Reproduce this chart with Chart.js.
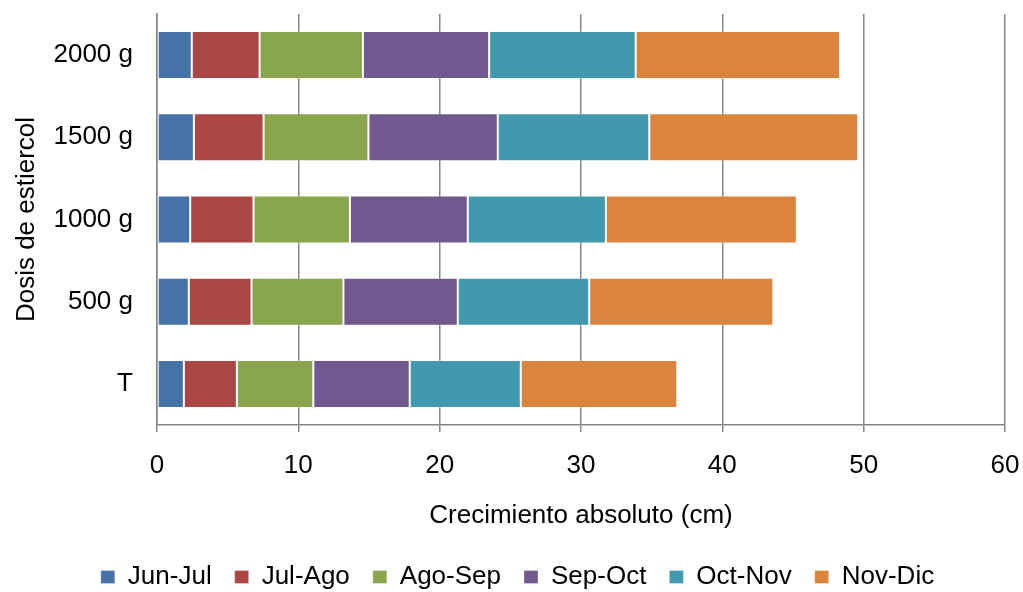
<!DOCTYPE html>
<html>
<head>
<meta charset="utf-8">
<script src="https://cdn.jsdelivr.net/npm/chart.js@4.4.1/dist/chart.umd.min.js"></script>
<style>
  html, body { margin: 0; padding: 0; background: #ffffff; }
  #wrap { width: 1023px; height: 592px; }
</style>
</head>
<body>
<div id="wrap"><canvas id="chart" width="1023" height="592"></canvas></div>
<script>
// Manure dose categories (bottom to top)
const categories = ['T', '500 g', '1000 g', '1500 g', '2000 g'];

// Absolute growth (cm) per period, one value per dose
const junJul = [1.90, 2.25, 2.35, 2.61, 2.46];
const julAgo = [3.75, 4.44, 4.48, 4.93, 4.80];
const agoSep = [5.41, 6.50, 6.82, 7.42, 7.31];
const sepOct = [6.82, 8.09, 8.34, 9.15, 8.93];
const octNov = [7.86, 9.30, 9.77, 10.72, 10.37];
const novDic = [11.07, 13.03, 13.51, 14.78, 14.46];

const periodNames = ['Jun-Jul', 'Jul-Ago', 'Ago-Sep', 'Sep-Oct', 'Oct-Nov', 'Nov-Dic'];
const periodValues = [junJul, julAgo, agoSep, sepOct, octNov, novDic];
const periodColors = ['#4572A7', '#AA4643', '#89A54E', '#71588F', '#4198AF', '#DB843D'];

const xTicks = [0, 10, 20, 30, 40, 50, 60];

const FONT = "'Liberation Sans', Arial, sans-serif";
const AXIS_GREY = '#868686';

// Nudge the legend row so it sits centred under the whole figure
const legendOffset = {
  id: 'legendOffset',
  afterLayout(chart) {
    const lg = chart.legend;
    if (!lg) return;
    lg.left += 15; lg.right += 15;
    lg.top += 8; lg.bottom += 8;
  }
};

new Chart(document.getElementById('chart'), {
  type: 'bar',
  data: {
    labels: categories,
    datasets: periodNames.map((name, i) => ({
      label: name,
      data: periodValues[i],
      backgroundColor: periodColors[i],
      borderColor: 'rgba(255,255,255,0.3)',
      borderWidth: 1,
      borderSkipped: false,
      barPercentage: 0.584,
      categoryPercentage: 1.0
    }))
  },
  options: {
    indexAxis: 'y',
    responsive: false,
    animation: false,
    devicePixelRatio: 1,
    layout: { padding: { top: 14, right: 18, left: 0, bottom: 0 } },
    plugins: {
      tooltip: { enabled: false },
      legend: {
        position: 'bottom',
        labels: {
          color: '#000',
          font: { family: FONT, size: 26 },
          boxWidth: 14,
          boxHeight: 13,
          padding: 23
        }
      }
    },
    scales: {
      x: {
        stacked: true,
        min: xTicks[0],
        max: xTicks[xTicks.length - 1],
        afterBuildTicks(scale) { scale.ticks = xTicks.map(v => ({ value: v })); },
        afterFit(scale) {
          scale.height = 108;
          scale.paddingLeft = 0;
          scale.paddingRight = 0;
        },
        ticks: {
          color: '#000',
          font: { family: FONT, size: 26 },
          padding: 18
        },
        grid: { color: AXIS_GREY, lineWidth: 1.5, tickLength: 7, drawTicks: true },
        border: { color: AXIS_GREY, width: 1.5 },
        title: {
          display: true,
          text: 'Crecimiento absoluto (cm)',
          color: '#000',
          font: { family: FONT, size: 26 },
          padding: { top: 0, bottom: 2 }
        }
      },
      y: {
        stacked: true,
        reverse: true,
        afterFit(scale) {
          scale.width = 157;
          scale.paddingTop = 0;
          scale.paddingBottom = 0;
        },
        ticks: {
          color: '#000',
          font: { family: FONT, size: 26 },
          padding: 24
        },
        grid: { display: false, drawTicks: false },
        border: { display: true, color: AXIS_GREY, width: 1.5 },
        title: {
          display: true,
          text: 'Dosis de estiercol',
          color: '#000',
          font: { family: FONT, size: 26 },
          padding: { top: 11, bottom: 0 }
        }
      }
    }
  },
  plugins: [legendOffset]
});
</script>
</body>
</html>
